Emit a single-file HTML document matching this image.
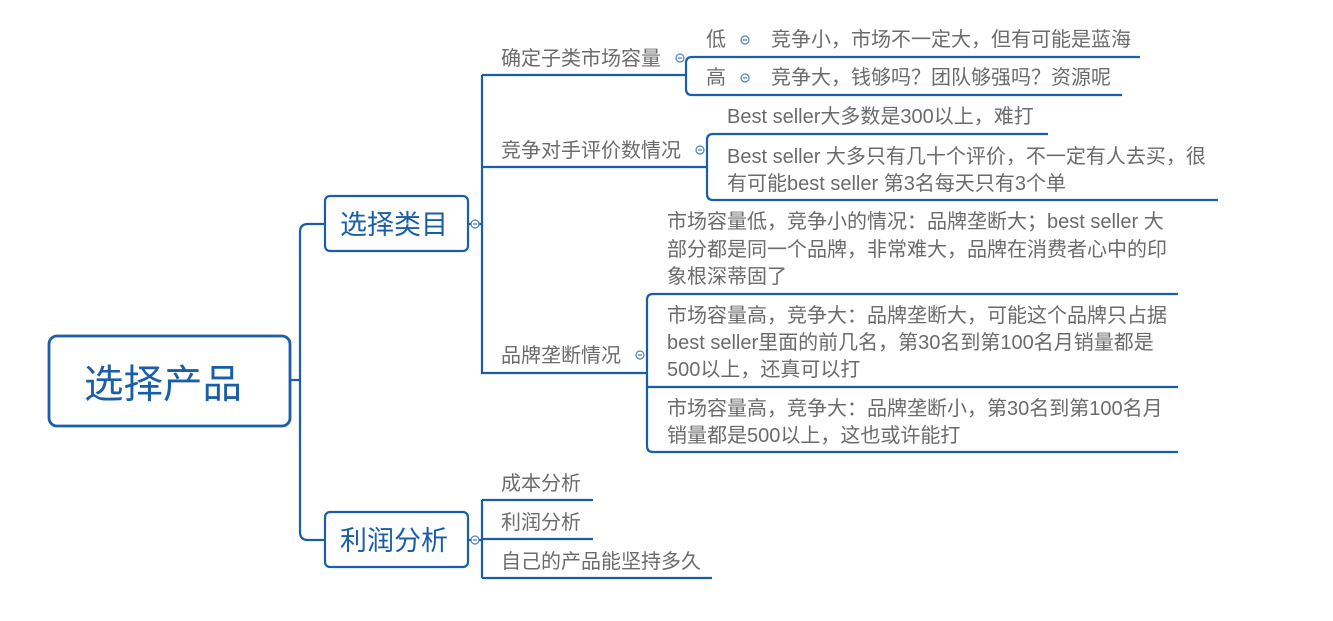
<!DOCTYPE html>
<html><head><meta charset="utf-8"><style>
html,body{margin:0;padding:0;background:#fff;}
svg text{font-family:"Liberation Sans","Noto Sans CJK SC",sans-serif;}
.g{fill:#6b6b6b;font-size:20px;}
.s{fill:#6b6b6b;font-size:20px;}
</style></head><body>
<svg width="1333" height="616" viewBox="0 0 1333 616" xmlns="http://www.w3.org/2000/svg">
<g fill="none" stroke="#1a5ea8" stroke-width="2.2">
<rect x="49" y="336" width="241" height="90" rx="8" stroke-width="2.8"/>
<rect x="325" y="196" width="143" height="55" rx="5"/>
<rect x="325" y="512" width="143" height="55" rx="5"/>
<path d="M290 380 H300"/>
<path d="M325 224 H308 Q300 224 300 232 V532 Q300 540 308 540 H325"/>
<path d="M468 224 H482 M482 75 V373 H647 M482 75 H686 M482 167 H707"/>
<path d="M468 540 H482 M482 500 V578 M482 500 H593 M482 539 H593 M482 578 H712"/>
<path d="M1140 57 H692 Q686 57 686 63 V89 Q686 95 692 95 H1122"/>
<path d="M1048 134 H713 Q707 134 707 140 V194 Q707 200 713 200 H1218"/>
<path d="M1178 294 H653 Q647 294 647 300 V446 Q647 452 653 452 H1178 M647 387 H1178"/>
</g>
<g fill="#fff" stroke="#4a7fc0" stroke-width="1.2">
<circle cx="475" cy="224" r="4"/><circle cx="475" cy="540" r="4"/>
<circle cx="680" cy="58" r="4"/><circle cx="700" cy="150" r="4"/><circle cx="640" cy="355" r="4"/>
<circle cx="745" cy="40" r="4"/><circle cx="745" cy="78" r="4"/>
</g>
<g stroke="#4a7fc0" stroke-width="1.2">
<path d="M473 224h4M473 540h4M678 58h4M698 150h4M638 355h4M743 40h4M743 78h4"/>
</g>
<text x="84" y="398" font-size="39.5" fill="#1a5ea8">选择产品</text>
<text x="340" y="234" font-size="27" fill="#1a5ea8">选择类目</text>
<text x="340" y="550" font-size="27" fill="#1a5ea8">利润分析</text>
<text class="s" x="501" y="65">确定子类市场容量</text>
<text class="s" x="501" y="157">竞争对手评价数情况</text>
<text class="s" x="501" y="362">品牌垄断情况</text>
<text class="s" x="501" y="490">成本分析</text>
<text class="s" x="501" y="529">利润分析</text>
<text class="s" x="501" y="568">自己的产品能坚持多久</text>
<text class="g" x="706" y="46">低</text>
<text class="g" x="771" y="46">竞争小，市场不一定大，但有可能是蓝海</text>
<text class="g" x="706" y="84">高</text>
<text class="g" x="771" y="84">竞争大，钱够吗？团队够强吗？资源呢</text>
<text class="g" x="727" y="123">Best seller大多数是300以上，难打</text>
<text class="g" x="727" y="163">Best seller 大多只有几十个评价，不一定有人去买，很</text>
<text class="g" x="727" y="190">有可能best seller 第3名每天只有3个单</text>
<text class="g" x="667" y="228">市场容量低，竞争小的情况：品牌垄断大；best seller 大</text>
<text class="g" x="667" y="256">部分都是同一个品牌，非常难大，品牌在消费者心中的印</text>
<text class="g" x="667" y="283">象根深蒂固了</text>
<text class="g" x="667" y="322">市场容量高，竞争大：品牌垄断大，可能这个品牌只占据</text>
<text class="g" x="667" y="349">best seller里面的前几名，第30名到第100名月销量都是</text>
<text class="g" x="667" y="376">500以上，还真可以打</text>
<text class="g" x="667" y="415">市场容量高，竞争大：品牌垄断小，第30名到第100名月</text>
<text class="g" x="667" y="442">销量都是500以上，这也或许能打</text>
</svg>
</body></html>
